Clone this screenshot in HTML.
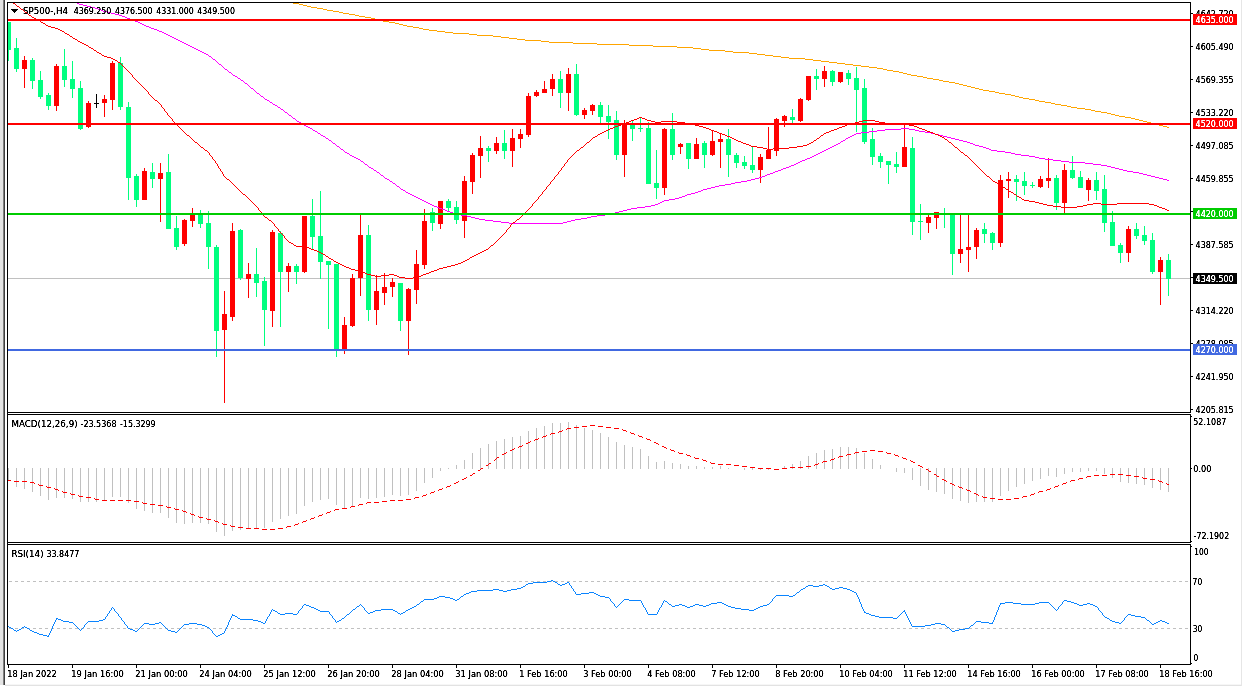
<!DOCTYPE html>
<html lang="en"><head><meta charset="utf-8"><title>SP500-,H4</title>
<style>html,body{margin:0;padding:0;background:#fff;overflow:hidden}svg{display:block}text{font-family:"DejaVu Sans Condensed","DejaVu Sans","Liberation Sans",sans-serif;font-size:9px;white-space:pre}</style></head><body>
<svg width="1243" height="686" viewBox="0 0 1243 686">
<rect width="1243" height="686" fill="#fff"/>
<g shape-rendering="crispEdges">
<rect x="0" y="0" width="3" height="685" fill="#e4e4e4"/>
<rect x="3" y="0" width="1" height="685" fill="#808080"/>
<rect x="4" y="0" width="1" height="685" fill="#404040"/>
<rect x="5" y="685" width="1237" height="1" fill="#e2e2e2"/>
<rect x="5" y="684" width="1237" height="1" fill="#f6f6f6"/>
<rect x="1241" y="0" width="1" height="686" fill="#e6e6e6"/>
</g>
<defs><clipPath id="c1"><rect x="8" y="3" width="1182" height="409"/></clipPath><clipPath id="c2"><rect x="8" y="415" width="1182" height="127"/></clipPath></defs>
<g clip-path="url(#c1)">
<g shape-rendering="crispEdges">
<rect x="8" y="278" width="1182" height="1" fill="#c0c0c0"/>
<g fill="#00FF7F">
<rect x="8" y="22" width="1" height="39"/>
<rect x="6" y="22" width="5" height="28"/>
<rect x="16" y="38" width="1" height="34"/>
<rect x="14" y="48" width="5" height="21"/>
<rect x="32" y="58" width="1" height="31"/>
<rect x="30" y="60" width="5" height="21"/>
<rect x="40" y="71" width="1" height="28"/>
<rect x="38" y="80" width="5" height="17"/>
<rect x="48" y="93" width="1" height="17"/>
<rect x="46" y="95" width="5" height="11"/>
<rect x="64" y="49" width="1" height="38"/>
<rect x="62" y="66" width="5" height="14"/>
<rect x="72" y="61" width="1" height="37"/>
<rect x="70" y="79" width="5" height="10"/>
<rect x="80" y="81" width="1" height="49"/>
<rect x="78" y="88" width="5" height="41"/>
<rect x="120" y="57" width="1" height="53"/>
<rect x="118" y="63" width="5" height="44"/>
<rect x="128" y="102" width="1" height="98"/>
<rect x="126" y="107" width="5" height="71"/>
<rect x="136" y="174" width="1" height="33"/>
<rect x="134" y="176" width="5" height="24"/>
<rect x="152" y="163" width="1" height="25"/>
<rect x="150" y="172" width="5" height="7"/>
<rect x="168" y="154" width="1" height="75"/>
<rect x="166" y="172" width="5" height="57"/>
<rect x="176" y="216" width="1" height="34"/>
<rect x="174" y="228" width="5" height="19"/>
<rect x="200" y="210" width="1" height="18"/>
<rect x="198" y="215" width="5" height="9"/>
<rect x="208" y="211" width="1" height="58"/>
<rect x="206" y="223" width="5" height="24"/>
<rect x="216" y="245" width="1" height="112"/>
<rect x="214" y="247" width="5" height="84"/>
<rect x="240" y="229" width="1" height="51"/>
<rect x="238" y="230" width="5" height="48"/>
<rect x="256" y="248" width="1" height="49"/>
<rect x="254" y="274" width="5" height="9"/>
<rect x="264" y="277" width="1" height="69"/>
<rect x="262" y="281" width="5" height="29"/>
<rect x="280" y="231" width="1" height="96"/>
<rect x="278" y="233" width="5" height="39"/>
<rect x="296" y="264" width="1" height="20"/>
<rect x="294" y="266" width="5" height="6"/>
<rect x="312" y="199" width="1" height="50"/>
<rect x="310" y="216" width="5" height="21"/>
<rect x="320" y="191" width="1" height="88"/>
<rect x="318" y="236" width="5" height="26"/>
<rect x="328" y="261" width="1" height="68"/>
<rect x="326" y="261" width="5" height="4"/>
<rect x="336" y="264" width="1" height="93"/>
<rect x="334" y="264" width="5" height="86"/>
<rect x="368" y="225" width="1" height="96"/>
<rect x="366" y="235" width="5" height="75"/>
<rect x="400" y="283" width="1" height="48"/>
<rect x="398" y="283" width="5" height="38"/>
<rect x="432" y="208" width="1" height="23"/>
<rect x="430" y="212" width="5" height="11"/>
<rect x="448" y="199" width="1" height="13"/>
<rect x="446" y="201" width="5" height="7"/>
<rect x="456" y="201" width="1" height="23"/>
<rect x="454" y="207" width="5" height="13"/>
<rect x="488" y="146" width="1" height="16"/>
<rect x="486" y="148" width="5" height="3"/>
<rect x="504" y="130" width="1" height="29"/>
<rect x="502" y="143" width="5" height="8"/>
<rect x="560" y="71" width="1" height="37"/>
<rect x="558" y="79" width="5" height="14"/>
<rect x="576" y="64" width="1" height="52"/>
<rect x="574" y="74" width="5" height="41"/>
<rect x="600" y="102" width="1" height="21"/>
<rect x="598" y="105" width="5" height="12"/>
<rect x="608" y="105" width="1" height="34"/>
<rect x="606" y="116" width="5" height="6"/>
<rect x="616" y="111" width="1" height="49"/>
<rect x="614" y="120" width="5" height="35"/>
<rect x="632" y="121" width="1" height="20"/>
<rect x="630" y="125" width="5" height="4"/>
<rect x="640" y="117" width="1" height="15"/>
<rect x="638" y="128" width="5" height="1"/>
<rect x="648" y="122" width="1" height="62"/>
<rect x="646" y="128" width="5" height="56"/>
<rect x="656" y="150" width="1" height="49"/>
<rect x="654" y="183" width="5" height="5"/>
<rect x="672" y="113" width="1" height="47"/>
<rect x="670" y="129" width="5" height="26"/>
<rect x="688" y="143" width="1" height="26"/>
<rect x="686" y="143" width="5" height="16"/>
<rect x="704" y="141" width="1" height="27"/>
<rect x="702" y="143" width="5" height="12"/>
<rect x="728" y="129" width="1" height="48"/>
<rect x="726" y="139" width="5" height="16"/>
<rect x="736" y="153" width="1" height="15"/>
<rect x="734" y="155" width="5" height="8"/>
<rect x="744" y="156" width="1" height="13"/>
<rect x="742" y="162" width="5" height="4"/>
<rect x="752" y="147" width="1" height="26"/>
<rect x="750" y="165" width="5" height="5"/>
<rect x="792" y="109" width="1" height="14"/>
<rect x="790" y="117" width="5" height="3"/>
<rect x="816" y="69" width="1" height="21"/>
<rect x="814" y="76" width="5" height="3"/>
<rect x="832" y="70" width="1" height="16"/>
<rect x="830" y="71" width="5" height="11"/>
<rect x="848" y="70" width="1" height="15"/>
<rect x="846" y="73" width="5" height="6"/>
<rect x="856" y="67" width="1" height="65"/>
<rect x="854" y="78" width="5" height="12"/>
<rect x="864" y="79" width="1" height="65"/>
<rect x="862" y="88" width="5" height="54"/>
<rect x="872" y="128" width="1" height="37"/>
<rect x="870" y="139" width="5" height="18"/>
<rect x="880" y="153" width="1" height="15"/>
<rect x="878" y="156" width="5" height="6"/>
<rect x="888" y="161" width="1" height="23"/>
<rect x="886" y="161" width="5" height="4"/>
<rect x="896" y="152" width="1" height="21"/>
<rect x="894" y="164" width="5" height="3"/>
<rect x="912" y="137" width="1" height="98"/>
<rect x="910" y="148" width="5" height="74"/>
<rect x="920" y="204" width="1" height="36"/>
<rect x="918" y="221" width="5" height="1"/>
<rect x="944" y="208" width="1" height="20"/>
<rect x="942" y="213" width="5" height="2"/>
<rect x="952" y="214" width="1" height="61"/>
<rect x="950" y="214" width="5" height="40"/>
<rect x="984" y="223" width="1" height="20"/>
<rect x="982" y="229" width="5" height="5"/>
<rect x="992" y="232" width="1" height="18"/>
<rect x="990" y="233" width="5" height="10"/>
<rect x="1016" y="175" width="1" height="26"/>
<rect x="1014" y="179" width="5" height="3"/>
<rect x="1024" y="172" width="1" height="23"/>
<rect x="1022" y="181" width="5" height="5"/>
<rect x="1032" y="182" width="1" height="6"/>
<rect x="1030" y="185" width="5" height="1"/>
<rect x="1056" y="175" width="1" height="35"/>
<rect x="1054" y="178" width="5" height="25"/>
<rect x="1072" y="156" width="1" height="23"/>
<rect x="1070" y="170" width="5" height="8"/>
<rect x="1080" y="171" width="1" height="17"/>
<rect x="1078" y="177" width="5" height="11"/>
<rect x="1096" y="172" width="1" height="28"/>
<rect x="1094" y="180" width="5" height="11"/>
<rect x="1104" y="175" width="1" height="57"/>
<rect x="1102" y="189" width="5" height="34"/>
<rect x="1112" y="211" width="1" height="35"/>
<rect x="1110" y="222" width="5" height="24"/>
<rect x="1120" y="243" width="1" height="20"/>
<rect x="1118" y="245" width="5" height="8"/>
<rect x="1136" y="223" width="1" height="16"/>
<rect x="1134" y="229" width="5" height="7"/>
<rect x="1144" y="226" width="1" height="19"/>
<rect x="1142" y="235" width="5" height="6"/>
<rect x="1152" y="233" width="1" height="41"/>
<rect x="1150" y="240" width="5" height="32"/>
<rect x="1168" y="254" width="1" height="42"/>
<rect x="1166" y="260" width="5" height="19"/>
</g>
<g fill="#FF0000">
<rect x="24" y="56" width="1" height="32"/>
<rect x="22" y="60" width="5" height="9"/>
<rect x="56" y="64" width="1" height="47"/>
<rect x="54" y="66" width="5" height="40"/>
<rect x="88" y="101" width="1" height="27"/>
<rect x="86" y="103" width="5" height="24"/>
<rect x="104" y="95" width="1" height="22"/>
<rect x="102" y="99" width="5" height="4"/>
<rect x="112" y="61" width="1" height="49"/>
<rect x="110" y="63" width="5" height="37"/>
<rect x="144" y="168" width="1" height="32"/>
<rect x="142" y="171" width="5" height="29"/>
<rect x="160" y="163" width="1" height="59"/>
<rect x="158" y="173" width="5" height="6"/>
<rect x="184" y="219" width="1" height="27"/>
<rect x="182" y="220" width="5" height="24"/>
<rect x="192" y="208" width="1" height="19"/>
<rect x="190" y="215" width="5" height="6"/>
<rect x="224" y="291" width="1" height="112"/>
<rect x="222" y="314" width="5" height="16"/>
<rect x="232" y="223" width="1" height="98"/>
<rect x="230" y="231" width="5" height="86"/>
<rect x="248" y="263" width="1" height="35"/>
<rect x="246" y="274" width="5" height="5"/>
<rect x="272" y="230" width="1" height="97"/>
<rect x="270" y="232" width="5" height="79"/>
<rect x="288" y="263" width="1" height="29"/>
<rect x="286" y="266" width="5" height="6"/>
<rect x="304" y="216" width="1" height="57"/>
<rect x="302" y="216" width="5" height="56"/>
<rect x="344" y="317" width="1" height="37"/>
<rect x="342" y="325" width="5" height="25"/>
<rect x="352" y="274" width="1" height="53"/>
<rect x="350" y="278" width="5" height="48"/>
<rect x="360" y="215" width="1" height="81"/>
<rect x="358" y="235" width="5" height="43"/>
<rect x="376" y="275" width="1" height="50"/>
<rect x="374" y="291" width="5" height="19"/>
<rect x="384" y="273" width="1" height="32"/>
<rect x="382" y="287" width="5" height="6"/>
<rect x="392" y="278" width="1" height="19"/>
<rect x="390" y="282" width="5" height="5"/>
<rect x="408" y="288" width="1" height="67"/>
<rect x="406" y="289" width="5" height="32"/>
<rect x="416" y="250" width="1" height="54"/>
<rect x="414" y="264" width="5" height="26"/>
<rect x="424" y="209" width="1" height="60"/>
<rect x="422" y="221" width="5" height="44"/>
<rect x="440" y="201" width="1" height="28"/>
<rect x="438" y="201" width="5" height="23"/>
<rect x="464" y="176" width="1" height="62"/>
<rect x="462" y="181" width="5" height="40"/>
<rect x="472" y="153" width="1" height="41"/>
<rect x="470" y="155" width="5" height="27"/>
<rect x="480" y="136" width="1" height="42"/>
<rect x="478" y="148" width="5" height="8"/>
<rect x="496" y="137" width="1" height="17"/>
<rect x="494" y="143" width="5" height="8"/>
<rect x="512" y="129" width="1" height="38"/>
<rect x="510" y="138" width="5" height="13"/>
<rect x="520" y="129" width="1" height="19"/>
<rect x="518" y="134" width="5" height="5"/>
<rect x="528" y="93" width="1" height="44"/>
<rect x="526" y="96" width="5" height="39"/>
<rect x="536" y="90" width="1" height="7"/>
<rect x="534" y="92" width="5" height="4"/>
<rect x="544" y="81" width="1" height="12"/>
<rect x="542" y="89" width="5" height="4"/>
<rect x="552" y="74" width="1" height="22"/>
<rect x="550" y="79" width="5" height="10"/>
<rect x="568" y="68" width="1" height="43"/>
<rect x="566" y="74" width="5" height="19"/>
<rect x="584" y="108" width="1" height="11"/>
<rect x="582" y="110" width="5" height="5"/>
<rect x="592" y="104" width="1" height="11"/>
<rect x="590" y="105" width="5" height="6"/>
<rect x="624" y="120" width="1" height="57"/>
<rect x="622" y="123" width="5" height="32"/>
<rect x="664" y="128" width="1" height="67"/>
<rect x="662" y="129" width="5" height="59"/>
<rect x="680" y="143" width="1" height="11"/>
<rect x="678" y="144" width="5" height="3"/>
<rect x="696" y="138" width="1" height="21"/>
<rect x="694" y="144" width="5" height="15"/>
<rect x="712" y="131" width="1" height="25"/>
<rect x="710" y="141" width="5" height="14"/>
<rect x="720" y="133" width="1" height="35"/>
<rect x="718" y="139" width="5" height="3"/>
<rect x="760" y="154" width="1" height="29"/>
<rect x="758" y="157" width="5" height="13"/>
<rect x="768" y="127" width="1" height="32"/>
<rect x="766" y="150" width="5" height="9"/>
<rect x="776" y="118" width="1" height="38"/>
<rect x="774" y="119" width="5" height="32"/>
<rect x="784" y="115" width="1" height="12"/>
<rect x="782" y="116" width="5" height="5"/>
<rect x="800" y="98" width="1" height="24"/>
<rect x="798" y="99" width="5" height="22"/>
<rect x="808" y="76" width="1" height="25"/>
<rect x="806" y="76" width="5" height="24"/>
<rect x="824" y="66" width="1" height="21"/>
<rect x="822" y="71" width="5" height="8"/>
<rect x="840" y="72" width="1" height="11"/>
<rect x="838" y="72" width="5" height="10"/>
<rect x="904" y="125" width="1" height="42"/>
<rect x="902" y="147" width="5" height="20"/>
<rect x="928" y="215" width="1" height="18"/>
<rect x="926" y="217" width="5" height="6"/>
<rect x="936" y="212" width="1" height="17"/>
<rect x="934" y="212" width="5" height="6"/>
<rect x="960" y="215" width="1" height="48"/>
<rect x="958" y="249" width="5" height="5"/>
<rect x="968" y="215" width="1" height="57"/>
<rect x="966" y="247" width="5" height="3"/>
<rect x="976" y="228" width="1" height="31"/>
<rect x="974" y="230" width="5" height="17"/>
<rect x="1000" y="175" width="1" height="72"/>
<rect x="998" y="180" width="5" height="63"/>
<rect x="1008" y="172" width="1" height="26"/>
<rect x="1006" y="179" width="5" height="2"/>
<rect x="1040" y="176" width="1" height="12"/>
<rect x="1038" y="179" width="5" height="8"/>
<rect x="1048" y="158" width="1" height="30"/>
<rect x="1046" y="178" width="5" height="3"/>
<rect x="1064" y="164" width="1" height="49"/>
<rect x="1062" y="170" width="5" height="33"/>
<rect x="1088" y="178" width="1" height="23"/>
<rect x="1086" y="180" width="5" height="10"/>
<rect x="1128" y="226" width="1" height="36"/>
<rect x="1126" y="229" width="5" height="24"/>
<rect x="1160" y="257" width="1" height="48"/>
<rect x="1158" y="260" width="5" height="12"/>
</g>
<g fill="#000000">
<rect x="96" y="94" width="1" height="14"/>
<rect x="94" y="103" width="5" height="1"/>
</g>
</g>
<path d="M293 3.5h6M299 4.5h4M303 5.5h4M307 6.5h4M311 7.5h6M317 8.5h6M323 9.5h4M327 10.5h6M333 11.5h6M339 12.5h4M343 13.5h6M349 14.5h6M355 15.5h4M359 16.5h6M365 17.5h6M371 18.5h4M375 19.5h4M379 20.5h4M383 21.5h6M389 22.5h6M395 23.5h4M399 24.5h4M403 25.5h4M407 26.5h6M413 27.5h6M419 28.5h4M423 29.5h6M429 30.5h8M437 31.5h8M445 32.5h8M453 33.5h16M469 34.5h8M477 35.5h16M493 36.5h8M501 37.5h8M509 38.5h8M517 39.5h8M525 40.5h16M541 41.5h8M549 42.5h24M573 43.5h24M597 44.5h32M629 45.5h24M653 46.5h24M677 47.5h16M693 48.5h8M701 49.5h8M709 50.5h16M725 51.5h8M733 52.5h16M749 53.5h8M757 54.5h8M765 55.5h8M773 56.5h8M781 57.5h8M789 58.5h16M805 59.5h8M813 60.5h8M821 61.5h8M829 62.5h8M837 63.5h8M845 64.5h8M853 65.5h8M861 66.5h8M869 67.5h8M877 68.5h6M883 69.5h4M887 70.5h6M893 71.5h6M899 72.5h4M903 73.5h4M907 74.5h4M911 75.5h6M917 76.5h6M923 77.5h4M927 78.5h6M933 79.5h6M939 80.5h4M943 81.5h6M949 82.5h6M955 83.5h4M959 84.5h4M963 85.5h4M967 86.5h4M971 87.5h4M975 88.5h4M979 89.5h4M983 90.5h6M989 91.5h6M995 92.5h4M999 93.5h6M1005 94.5h6M1011 95.5h4M1015 96.5h4M1019 97.5h4M1023 98.5h6M1029 99.5h6M1035 100.5h4M1039 101.5h6M1045 102.5h6M1051 103.5h4M1055 104.5h6M1061 105.5h6M1067 106.5h4M1071 107.5h6M1077 108.5h8M1085 109.5h6M1091 110.5h4M1095 111.5h6M1101 112.5h6M1107 113.5h4M1111 114.5h4M1115 115.5h4M1119 116.5h6M1125 117.5h6M1131 118.5h4M1135 119.5h4M1139 120.5h4M1143 121.5h4M1147 122.5h4M1151 123.5h4M1155 124.5h4M1159 125.5h4M1163 126.5h4M1167 127.5h2" fill="none" stroke="#FFA500" stroke-width="1" shape-rendering="crispEdges"/>
<path d="M77 3.5h2M79 4.5h4M83 5.5h4M87 6.5h4M91 7.5h4M95 8.5h3M98 9.5h3M101 10.5h2M103 11.5h4M107 12.5h4M111 13.5h4M115 14.5h4M119 15.5h3M122 16.5h3M125 17.5h2M127 18.5h3M130 19.5h3M133 20.5h2M135 21.5h3M138 22.5h2M140 23.5h2M142 24.5h2M144 25.5h2M146 26.5h3M149 27.5h2M151 28.5h3M154 29.5h3M157 30.5h2M159 31.5h3M162 32.5h2M164 33.5h2M166 34.5h2M168 35.5h2M170 36.5h2M172 37.5h2M174 38.5h2M176 39.5h2M178 40.5h2M180 41.5h2M182 42.5h2M184 43.5h2M186 44.5h2M188 45.5h2M190 46.5h2M192 47.5h2M194 48.5h2M196 49.5h2M198 50.5h2M200 51.5h2M202 52.5h2M204 53.5h2M206 54.5h2M209 56.5h2M213 59.5h2M219 64.5h2M225 69.5h2M229 72.5h2M233 75.5h2M235 76.5h2M238 78.5h2M241 80.5h2M245 83.5h2M251 88.5h2M257 93.5h2M261 96.5h2M265 99.5h2M267 100.5h2M270 102.5h2M273 104.5h2M275 105.5h2M278 107.5h2M281 109.5h2M285 112.5h2M289 115.5h2M293 118.5h2M297 121.5h2M299 122.5h2M302 124.5h2M304 125.5h2M306 126.5h2M308 127.5h2M310 128.5h2M901 128.5h8M885 129.5h16M909 129.5h6M313 130.5h2M877 130.5h8M915 130.5h4M315 131.5h2M869 131.5h8M919 131.5h6M861 132.5h8M925 132.5h6M318 133.5h2M856 133.5h5M931 133.5h4M854 134.5h2M935 134.5h4M321 135.5h2M852 135.5h2M939 135.5h4M323 136.5h2M850 136.5h2M943 136.5h4M848 137.5h2M947 137.5h4M326 138.5h2M846 138.5h2M951 138.5h4M955 139.5h4M329 140.5h2M843 140.5h2M959 140.5h4M841 141.5h2M963 141.5h4M967 142.5h3M333 143.5h2M838 143.5h2M970 143.5h3M836 144.5h2M973 144.5h2M834 145.5h2M975 145.5h4M337 146.5h2M832 146.5h2M979 146.5h4M830 147.5h2M983 147.5h3M828 148.5h2M986 148.5h3M341 149.5h2M826 149.5h2M989 149.5h2M824 150.5h2M991 150.5h6M822 151.5h2M997 151.5h8M345 152.5h2M820 152.5h2M1005 152.5h6M347 153.5h2M818 153.5h2M1011 153.5h4M816 154.5h2M1015 154.5h6M350 155.5h2M814 155.5h2M1021 155.5h8M352 156.5h2M812 156.5h2M1029 156.5h6M354 157.5h2M810 157.5h2M1035 157.5h4M356 158.5h2M807 158.5h3M1039 158.5h6M358 159.5h2M805 159.5h2M1045 159.5h8M802 160.5h3M1053 160.5h8M361 161.5h2M800 161.5h2M1061 161.5h8M798 162.5h2M1069 162.5h16M796 163.5h2M1085 163.5h8M365 164.5h2M794 164.5h2M1093 164.5h8M791 165.5h3M1101 165.5h6M789 166.5h2M1107 166.5h4M369 167.5h2M786 167.5h3M1111 167.5h4M371 168.5h2M783 168.5h3M1115 168.5h4M781 169.5h2M1119 169.5h4M374 170.5h2M778 170.5h3M1123 170.5h4M775 171.5h3M1127 171.5h6M377 172.5h2M773 172.5h2M1133 172.5h6M770 173.5h3M1139 173.5h4M767 174.5h3M1143 174.5h4M381 175.5h2M765 175.5h2M1147 175.5h4M762 176.5h3M1151 176.5h4M759 177.5h3M1155 177.5h4M385 178.5h2M755 178.5h4M1159 178.5h4M387 179.5h2M751 179.5h4M1163 179.5h4M747 180.5h4M1167 180.5h2M390 181.5h2M741 181.5h6M735 182.5h6M393 183.5h2M731 183.5h4M725 184.5h6M719 185.5h6M397 186.5h2M715 186.5h4M711 187.5h4M707 188.5h4M401 189.5h2M703 189.5h4M403 190.5h2M701 190.5h2M698 191.5h3M406 192.5h2M695 192.5h3M408 193.5h2M691 193.5h4M410 194.5h2M687 194.5h4M412 195.5h2M685 195.5h2M414 196.5h2M682 196.5h3M416 197.5h2M679 197.5h3M418 198.5h2M675 198.5h4M420 199.5h2M669 199.5h6M422 200.5h2M664 200.5h5M424 201.5h2M662 201.5h2M426 202.5h2M660 202.5h2M428 203.5h2M658 203.5h2M430 204.5h2M655 204.5h3M432 205.5h2M651 205.5h4M434 206.5h3M645 206.5h6M437 207.5h2M637 207.5h8M439 208.5h3M631 208.5h6M442 209.5h3M627 209.5h4M445 210.5h2M623 210.5h4M447 211.5h3M619 211.5h4M450 212.5h3M615 212.5h4M453 213.5h2M611 213.5h4M455 214.5h6M605 214.5h6M461 215.5h6M597 215.5h8M467 216.5h4M591 216.5h6M471 217.5h4M587 217.5h4M475 218.5h4M581 218.5h6M479 219.5h6M575 219.5h6M485 220.5h8M571 220.5h4M493 221.5h8M567 221.5h4M501 222.5h8M563 222.5h4M509 223.5h54M208.5 55v1M211.5 57v1M212.5 58v1M215.5 60v1M216.5 61v1M217.5 62v1M218.5 63v1M221.5 65v1M222.5 66v1M223.5 67v1M224.5 68v1M227.5 70v1M228.5 71v1M231.5 73v1M232.5 74v1M237.5 77v1M240.5 79v1M243.5 81v1M244.5 82v1M247.5 84v1M248.5 85v1M249.5 86v1M250.5 87v1M253.5 89v1M254.5 90v1M255.5 91v1M256.5 92v1M259.5 94v1M260.5 95v1M263.5 97v1M264.5 98v1M269.5 101v1M272.5 103v1M277.5 106v1M280.5 108v1M283.5 110v1M284.5 111v1M287.5 113v1M288.5 114v1M291.5 116v1M292.5 117v1M295.5 119v1M296.5 120v1M301.5 123v1M312.5 129v1M317.5 132v1M320.5 134v1M325.5 137v1M328.5 139v1M331.5 141v1M332.5 142v1M335.5 144v1M336.5 145v1M339.5 147v1M340.5 148v1M343.5 150v1M344.5 151v1M349.5 154v1M360.5 160v1M363.5 162v1M364.5 163v1M367.5 165v1M368.5 166v1M373.5 169v1M376.5 171v1M379.5 173v1M380.5 174v1M383.5 176v1M384.5 177v1M389.5 180v1M392.5 182v1M395.5 184v1M396.5 185v1M399.5 187v1M400.5 188v1M405.5 191v1M840.5 142v1M845.5 139v1" fill="none" stroke="#FF00FF" stroke-width="1" shape-rendering="crispEdges"/>
<path d="M13 3.5h2M17 6.5h2M21 9.5h2M25 12.5h2M29 15.5h2M32 17.5h2M34 18.5h2M36 19.5h2M38 20.5h2M41 22.5h2M43 23.5h2M46 25.5h2M48 26.5h3M51 27.5h4M55 28.5h3M58 29.5h2M60 30.5h2M62 31.5h2M65 33.5h2M67 34.5h2M70 36.5h2M73 38.5h2M75 39.5h2M78 41.5h2M80 42.5h2M82 43.5h2M84 44.5h2M86 45.5h2M89 47.5h2M91 48.5h2M94 50.5h2M97 52.5h2M99 53.5h2M102 55.5h2M104 56.5h3M107 57.5h4M111 58.5h2M113 59.5h2M115 60.5h2M118 62.5h2M155 100.5h2M639 117.5h3M637 118.5h2M642 118.5h3M634 119.5h3M645 119.5h2M631 120.5h3M647 120.5h4M863 120.5h12M629 121.5h2M651 121.5h4M661 121.5h16M859 121.5h4M875 121.5h4M626 122.5h3M655 122.5h6M677 122.5h8M855 122.5h4M879 122.5h6M623 123.5h3M685 123.5h6M851 123.5h4M885 123.5h16M621 124.5h2M691 124.5h4M847 124.5h4M901 124.5h8M618 125.5h3M695 125.5h4M845 125.5h2M909 125.5h5M615 126.5h3M699 126.5h4M842 126.5h3M914 126.5h3M613 127.5h2M703 127.5h3M839 127.5h3M917 127.5h2M610 128.5h3M706 128.5h3M837 128.5h2M919 128.5h3M608 129.5h2M709 129.5h2M834 129.5h3M922 129.5h3M606 130.5h2M711 130.5h3M831 130.5h3M925 130.5h2M604 131.5h2M714 131.5h3M829 131.5h2M927 131.5h3M602 132.5h2M717 132.5h2M826 132.5h3M930 132.5h3M600 133.5h2M719 133.5h3M824 133.5h2M933 133.5h2M598 134.5h2M722 134.5h3M935 134.5h3M187 135.5h2M725 135.5h2M821 135.5h2M938 135.5h2M595 136.5h2M727 136.5h3M940 136.5h2M593 137.5h2M730 137.5h2M942 137.5h2M732 138.5h2M817 138.5h2M734 139.5h2M945 139.5h2M736 140.5h2M814 140.5h2M738 141.5h3M195 142.5h2M587 142.5h2M741 142.5h2M811 142.5h2M949 142.5h2M743 143.5h3M809 143.5h2M746 144.5h3M807 144.5h2M749 145.5h2M803 145.5h4M751 146.5h6M797 146.5h6M201 147.5h2M581 147.5h2M757 147.5h6M789 147.5h8M955 147.5h2M763 148.5h4M773 148.5h16M767 149.5h6M205 150.5h2M577 150.5h2M961 152.5h2M965 155.5h2M987 176.5h2M227 179.5h2M993 181.5h2M995 182.5h2M998 184.5h2M1001 186.5h2M1003 187.5h2M1006 189.5h2M1009 191.5h2M1011 192.5h2M243 194.5h2M1014 194.5h2M1017 196.5h2M1019 197.5h2M1022 199.5h2M1024 200.5h5M1029 201.5h6M1035 202.5h4M1039 203.5h4M1093 203.5h8M1117 203.5h32M1043 204.5h4M1087 204.5h6M1101 204.5h16M1149 204.5h5M1047 205.5h6M1083 205.5h4M1154 205.5h3M1053 206.5h8M1077 206.5h6M1157 206.5h2M1061 207.5h16M1159 207.5h3M1162 208.5h3M1165 209.5h2M1167 210.5h2M265 217.5h2M517 219.5h2M269 220.5h2M513 222.5h2M289 242.5h2M291 243.5h2M294 245.5h2M491 245.5h2M296 246.5h10M306 247.5h3M309 248.5h2M311 249.5h3M486 249.5h2M314 250.5h3M484 250.5h2M317 251.5h2M482 251.5h2M319 252.5h2M480 252.5h2M321 253.5h2M478 253.5h2M323 254.5h2M476 254.5h2M474 255.5h2M326 256.5h2M472 256.5h2M470 257.5h2M329 258.5h2M331 259.5h2M467 259.5h2M465 260.5h2M334 261.5h2M463 261.5h2M336 262.5h2M461 262.5h2M338 263.5h2M458 263.5h3M340 264.5h2M455 264.5h3M342 265.5h2M451 265.5h4M344 266.5h2M447 266.5h4M346 267.5h3M443 267.5h4M349 268.5h2M439 268.5h4M351 269.5h4M437 269.5h2M355 270.5h4M434 270.5h3M359 271.5h3M431 271.5h3M362 272.5h3M429 272.5h2M365 273.5h2M426 273.5h3M367 274.5h4M389 274.5h5M423 274.5h3M371 275.5h4M381 275.5h8M394 275.5h3M421 275.5h2M375 276.5h6M397 276.5h2M418 276.5h3M399 277.5h6M413 277.5h5M405 278.5h8M15.5 4v1M16.5 5v1M19.5 7v1M20.5 8v1M23.5 10v1M24.5 11v1M27.5 13v1M28.5 14v1M31.5 16v1M40.5 21v1M45.5 24v1M64.5 32v1M69.5 35v1M72.5 37v1M77.5 40v1M88.5 46v1M93.5 49v1M96.5 51v1M101.5 54v1M117.5 61v1M120.5 63v1M121.5 64v1M122.5 65v1M123.5 66v1M124.5 67v1M125.5 68v1M126.5 69v1M127.5 70v1M128.5 71v1M129.5 72v1M130.5 73v1M131.5 74v1M132.5 75v2M133.5 77v1M134.5 78v1M135.5 79v1M136.5 80v1M137.5 81v1M138.5 82v1M139.5 83v1M140.5 84v1M141.5 85v1M142.5 86v1M143.5 87v1M144.5 88v1M145.5 89v1M146.5 90v1M147.5 91v1M148.5 92v2M149.5 94v1M150.5 95v1M151.5 96v1M152.5 97v1M153.5 98v1M154.5 99v1M157.5 101v1M158.5 102v1M159.5 103v1M160.5 104v1M161.5 105v2M162.5 107v1M163.5 108v1M164.5 109v2M165.5 111v1M166.5 112v1M167.5 113v2M168.5 115v1M169.5 116v1M170.5 117v1M171.5 118v1M172.5 119v2M173.5 121v1M174.5 122v1M175.5 123v1M176.5 124v1M177.5 125v1M178.5 126v1M179.5 127v1M180.5 128v1M181.5 129v1M182.5 130v1M183.5 131v1M184.5 132v1M185.5 133v1M186.5 134v1M189.5 136v1M190.5 137v1M191.5 138v1M192.5 139v1M193.5 140v1M194.5 141v1M197.5 143v1M198.5 144v1M199.5 145v1M200.5 146v1M203.5 148v1M204.5 149v1M207.5 151v1M208.5 152v1M209.5 153v2M210.5 155v1M211.5 156v1M212.5 157v2M213.5 159v1M214.5 160v1M215.5 161v2M216.5 163v1M217.5 164v2M218.5 166v2M219.5 168v1M220.5 169v2M221.5 171v1M222.5 172v2M223.5 174v2M224.5 176v1M225.5 177v1M226.5 178v1M229.5 180v1M230.5 181v1M231.5 182v1M232.5 183v1M233.5 184v1M234.5 185v1M235.5 186v1M236.5 187v1M237.5 188v1M238.5 189v1M239.5 190v1M240.5 191v1M241.5 192v1M242.5 193v1M245.5 195v1M246.5 196v1M247.5 197v1M248.5 198v1M249.5 199v1M250.5 200v1M251.5 201v1M252.5 202v1M253.5 203v1M254.5 204v1M255.5 205v1M256.5 206v1M257.5 207v1M258.5 208v2M259.5 210v1M260.5 211v1M261.5 212v1M262.5 213v2M263.5 215v1M264.5 216v1M267.5 218v1M268.5 219v1M271.5 221v1M272.5 222v1M273.5 223v1M274.5 224v2M275.5 226v1M276.5 227v1M277.5 228v1M278.5 229v2M279.5 231v1M280.5 232v1M281.5 233v1M282.5 234v1M283.5 235v1M284.5 236v2M285.5 238v1M286.5 239v1M287.5 240v1M288.5 241v1M293.5 244v1M325.5 255v1M328.5 257v1M333.5 260v1M469.5 258v1M488.5 248v1M489.5 247v1M490.5 246v1M493.5 244v1M494.5 243v1M495.5 242v1M496.5 241v1M497.5 240v1M498.5 239v1M499.5 238v1M500.5 237v1M501.5 236v1M502.5 235v1M503.5 234v1M504.5 233v1M505.5 232v1M506.5 230v2M507.5 229v1M508.5 228v1M509.5 227v1M510.5 225v2M511.5 224v1M512.5 223v1M515.5 221v1M516.5 220v1M519.5 218v1M520.5 217v1M521.5 216v1M522.5 215v1M523.5 214v1M524.5 213v1M525.5 212v1M526.5 211v1M527.5 210v1M528.5 209v1M529.5 208v1M530.5 207v1M531.5 206v1M532.5 204v2M533.5 203v1M534.5 202v1M535.5 201v1M536.5 200v1M537.5 199v1M538.5 197v2M539.5 196v1M540.5 195v1M541.5 194v1M542.5 192v2M543.5 191v1M544.5 190v1M545.5 189v1M546.5 187v2M547.5 186v1M548.5 185v1M549.5 184v1M550.5 182v2M551.5 181v1M552.5 180v1M553.5 179v1M554.5 177v2M555.5 176v1M556.5 175v1M557.5 174v1M558.5 172v2M559.5 171v1M560.5 170v1M561.5 168v2M562.5 167v1M563.5 166v1M564.5 164v2M565.5 163v1M566.5 162v1M567.5 160v2M568.5 159v1M569.5 158v1M570.5 157v1M571.5 156v1M572.5 155v1M573.5 154v1M574.5 153v1M575.5 152v1M576.5 151v1M579.5 149v1M580.5 148v1M583.5 146v1M584.5 145v1M585.5 144v1M586.5 143v1M589.5 141v1M590.5 140v1M591.5 139v1M592.5 138v1M597.5 135v1M813.5 141v1M816.5 139v1M819.5 137v1M820.5 136v1M823.5 134v1M944.5 138v1M947.5 140v1M948.5 141v1M951.5 143v1M952.5 144v1M953.5 145v1M954.5 146v1M957.5 148v1M958.5 149v1M959.5 150v1M960.5 151v1M963.5 153v1M964.5 154v1M967.5 156v1M968.5 157v1M969.5 158v1M970.5 159v1M971.5 160v1M972.5 161v1M973.5 162v1M974.5 163v1M975.5 164v1M976.5 165v1M977.5 166v1M978.5 167v1M979.5 168v1M980.5 169v1M981.5 170v1M982.5 171v1M983.5 172v1M984.5 173v1M985.5 174v1M986.5 175v1M989.5 177v1M990.5 178v1M991.5 179v1M992.5 180v1M997.5 183v1M1000.5 185v1M1005.5 188v1M1008.5 190v1M1013.5 193v1M1016.5 195v1M1021.5 198v1" fill="none" stroke="#FF0000" stroke-width="1" shape-rendering="crispEdges"/>
<g shape-rendering="crispEdges">
<rect x="8" y="19" width="1182" height="2" fill="#FF0000"/>
<rect x="8" y="123" width="1182" height="2" fill="#FF0000"/>
<rect x="8" y="213" width="1182" height="2" fill="#00CC00"/>
<rect x="8" y="349" width="1182" height="2" fill="#4169E1"/>
</g>
</g>
<g shape-rendering="crispEdges" fill="#c0c0c0">
<rect x="8" y="468" width="1" height="12"/>
<rect x="16" y="468" width="1" height="19"/>
<rect x="24" y="468" width="1" height="21"/>
<rect x="32" y="468" width="1" height="24"/>
<rect x="40" y="468" width="1" height="28"/>
<rect x="48" y="468" width="1" height="32"/>
<rect x="56" y="468" width="1" height="30"/>
<rect x="64" y="468" width="1" height="30"/>
<rect x="72" y="468" width="1" height="31"/>
<rect x="80" y="468" width="1" height="34"/>
<rect x="88" y="468" width="1" height="34"/>
<rect x="96" y="468" width="1" height="34"/>
<rect x="104" y="468" width="1" height="32"/>
<rect x="112" y="468" width="1" height="29"/>
<rect x="120" y="468" width="1" height="29"/>
<rect x="128" y="468" width="1" height="35"/>
<rect x="136" y="468" width="1" height="41"/>
<rect x="144" y="468" width="1" height="43"/>
<rect x="152" y="468" width="1" height="45"/>
<rect x="160" y="468" width="1" height="45"/>
<rect x="168" y="468" width="1" height="50"/>
<rect x="176" y="468" width="1" height="55"/>
<rect x="184" y="468" width="1" height="56"/>
<rect x="192" y="468" width="1" height="55"/>
<rect x="200" y="468" width="1" height="55"/>
<rect x="208" y="468" width="1" height="56"/>
<rect x="216" y="468" width="1" height="64"/>
<rect x="224" y="468" width="1" height="68"/>
<rect x="232" y="468" width="1" height="63"/>
<rect x="240" y="468" width="1" height="62"/>
<rect x="248" y="468" width="1" height="60"/>
<rect x="256" y="468" width="1" height="60"/>
<rect x="264" y="468" width="1" height="60"/>
<rect x="272" y="468" width="1" height="54"/>
<rect x="280" y="468" width="1" height="51"/>
<rect x="288" y="468" width="1" height="48"/>
<rect x="296" y="468" width="1" height="46"/>
<rect x="304" y="468" width="1" height="38"/>
<rect x="312" y="468" width="1" height="34"/>
<rect x="320" y="468" width="1" height="32"/>
<rect x="328" y="468" width="1" height="31"/>
<rect x="336" y="468" width="1" height="37"/>
<rect x="344" y="468" width="1" height="40"/>
<rect x="352" y="468" width="1" height="38"/>
<rect x="360" y="468" width="1" height="30"/>
<rect x="368" y="468" width="1" height="31"/>
<rect x="376" y="468" width="1" height="30"/>
<rect x="384" y="468" width="1" height="29"/>
<rect x="392" y="468" width="1" height="27"/>
<rect x="400" y="468" width="1" height="28"/>
<rect x="408" y="468" width="1" height="27"/>
<rect x="416" y="468" width="1" height="23"/>
<rect x="424" y="468" width="1" height="15"/>
<rect x="432" y="468" width="1" height="10"/>
<rect x="440" y="468" width="1" height="3"/>
<rect x="448" y="468" width="1" height="1"/>
<rect x="456" y="465" width="1" height="4"/>
<rect x="464" y="460" width="1" height="9"/>
<rect x="472" y="453" width="1" height="16"/>
<rect x="480" y="448" width="1" height="21"/>
<rect x="488" y="444" width="1" height="25"/>
<rect x="496" y="441" width="1" height="28"/>
<rect x="504" y="439" width="1" height="30"/>
<rect x="512" y="437" width="1" height="32"/>
<rect x="520" y="436" width="1" height="33"/>
<rect x="528" y="431" width="1" height="38"/>
<rect x="536" y="428" width="1" height="41"/>
<rect x="544" y="426" width="1" height="43"/>
<rect x="552" y="423" width="1" height="46"/>
<rect x="560" y="423" width="1" height="46"/>
<rect x="568" y="422" width="1" height="47"/>
<rect x="576" y="425" width="1" height="44"/>
<rect x="584" y="428" width="1" height="41"/>
<rect x="592" y="430" width="1" height="39"/>
<rect x="600" y="433" width="1" height="36"/>
<rect x="608" y="437" width="1" height="32"/>
<rect x="616" y="442" width="1" height="27"/>
<rect x="624" y="445" width="1" height="24"/>
<rect x="632" y="447" width="1" height="22"/>
<rect x="640" y="449" width="1" height="20"/>
<rect x="648" y="456" width="1" height="13"/>
<rect x="656" y="462" width="1" height="7"/>
<rect x="664" y="461" width="1" height="8"/>
<rect x="672" y="463" width="1" height="6"/>
<rect x="680" y="464" width="1" height="5"/>
<rect x="688" y="466" width="1" height="3"/>
<rect x="696" y="466" width="1" height="3"/>
<rect x="704" y="467" width="1" height="2"/>
<rect x="712" y="467" width="1" height="2"/>
<rect x="720" y="466" width="1" height="3"/>
<rect x="728" y="468" width="1" height="1"/>
<rect x="744" y="468" width="1" height="2"/>
<rect x="752" y="468" width="1" height="2"/>
<rect x="760" y="468" width="1" height="2"/>
<rect x="768" y="468" width="1" height="2"/>
<rect x="784" y="466" width="1" height="3"/>
<rect x="792" y="464" width="1" height="5"/>
<rect x="800" y="461" width="1" height="8"/>
<rect x="808" y="456" width="1" height="13"/>
<rect x="816" y="453" width="1" height="16"/>
<rect x="824" y="450" width="1" height="19"/>
<rect x="832" y="449" width="1" height="20"/>
<rect x="840" y="447" width="1" height="22"/>
<rect x="848" y="447" width="1" height="22"/>
<rect x="856" y="448" width="1" height="21"/>
<rect x="864" y="453" width="1" height="16"/>
<rect x="872" y="459" width="1" height="10"/>
<rect x="880" y="465" width="1" height="4"/>
<rect x="896" y="468" width="1" height="4"/>
<rect x="904" y="468" width="1" height="5"/>
<rect x="912" y="468" width="1" height="12"/>
<rect x="920" y="468" width="1" height="18"/>
<rect x="928" y="468" width="1" height="22"/>
<rect x="936" y="468" width="1" height="24"/>
<rect x="944" y="468" width="1" height="26"/>
<rect x="952" y="468" width="1" height="31"/>
<rect x="960" y="468" width="1" height="33"/>
<rect x="968" y="468" width="1" height="35"/>
<rect x="976" y="468" width="1" height="34"/>
<rect x="984" y="468" width="1" height="34"/>
<rect x="992" y="468" width="1" height="34"/>
<rect x="1000" y="468" width="1" height="28"/>
<rect x="1008" y="468" width="1" height="23"/>
<rect x="1016" y="468" width="1" height="19"/>
<rect x="1024" y="468" width="1" height="16"/>
<rect x="1032" y="468" width="1" height="13"/>
<rect x="1040" y="468" width="1" height="11"/>
<rect x="1048" y="468" width="1" height="8"/>
<rect x="1056" y="468" width="1" height="9"/>
<rect x="1064" y="468" width="1" height="6"/>
<rect x="1072" y="468" width="1" height="4"/>
<rect x="1080" y="468" width="1" height="4"/>
<rect x="1088" y="468" width="1" height="3"/>
<rect x="1096" y="468" width="1" height="3"/>
<rect x="1104" y="468" width="1" height="6"/>
<rect x="1112" y="468" width="1" height="10"/>
<rect x="1120" y="468" width="1" height="14"/>
<rect x="1128" y="468" width="1" height="15"/>
<rect x="1136" y="468" width="1" height="16"/>
<rect x="1144" y="468" width="1" height="17"/>
<rect x="1152" y="468" width="1" height="20"/>
<rect x="1160" y="468" width="1" height="22"/>
<rect x="1168" y="468" width="1" height="24"/>
</g>
<path d="M590 425.5h5M582 426.5h5M598 426.5h5M574 427.5h5M606 427.5h5M567 428.5h4M614 428.5h5M623 430.5h3M559 431.5h3M551 433.5h4M631 433.5h3M543 436.5h3M639 436.5h3M535 439.5h3M647 439.5h3M528 442.5h2M654 442.5h2M526 443.5h2M656 443.5h2M519 446.5h3M662 446.5h2M664 447.5h2M512 449.5h2M510 450.5h2M671 450.5h3M870 450.5h5M862 451.5h5M878 451.5h5M855 452.5h4M504 453.5h2M679 453.5h4M887 453.5h4M502 454.5h2M847 454.5h4M687 455.5h3M895 455.5h3M839 456.5h4M497 457.5h2M695 458.5h4M903 458.5h3M831 459.5h3M703 460.5h3M823 461.5h4M911 461.5h2M913 462.5h2M489 463.5h2M711 463.5h4M718 464.5h5M726 464.5h5M815 464.5h3M486 465.5h2M734 465.5h5M918 465.5h2M742 466.5h5M806 466.5h5M920 466.5h2M750 467.5h5M790 467.5h5M798 467.5h5M481 468.5h2M758 468.5h5M766 468.5h5M782 468.5h5M774 469.5h5M926 469.5h2M478 470.5h2M929 471.5h2M473 473.5h2M934 474.5h2M1110 474.5h5M1118 474.5h5M470 475.5h2M1094 475.5h5M1102 475.5h5M1126 475.5h5M937 476.5h2M1087 476.5h4M1134 476.5h5M464 478.5h2M1079 478.5h4M1143 478.5h4M462 479.5h2M942 479.5h2M1150 479.5h5M8 480.5h3M944 480.5h2M1071 480.5h4M14 481.5h5M22 481.5h5M1159 481.5h3M30 482.5h4M456 482.5h2M454 483.5h2M950 483.5h2M1063 483.5h3M952 484.5h2M1167 484.5h2M39 485.5h4M447 486.5h3M1055 486.5h3M47 487.5h4M959 487.5h3M55 489.5h3M439 489.5h3M1047 489.5h3M967 490.5h3M1039 491.5h4M63 492.5h4M431 492.5h3M974 493.5h2M71 494.5h4M976 494.5h2M1031 494.5h3M423 495.5h3M79 496.5h4M1023 496.5h4M86 497.5h5M415 497.5h4M983 497.5h4M990 498.5h5M1014 498.5h5M95 499.5h4M406 499.5h5M998 499.5h5M1006 499.5h5M102 500.5h5M110 500.5h5M118 500.5h5M126 500.5h5M390 500.5h5M398 500.5h5M134 501.5h5M382 501.5h5M367 502.5h4M374 502.5h5M143 503.5h4M150 504.5h5M359 504.5h4M158 505.5h5M351 506.5h4M167 507.5h4M342 508.5h5M175 509.5h4M335 509.5h4M183 511.5h3M327 512.5h3M191 514.5h3M319 515.5h3M199 517.5h4M311 518.5h3M207 519.5h4M215 521.5h3M303 521.5h3M223 524.5h4M295 524.5h3M231 526.5h4M287 526.5h4M238 527.5h5M246 528.5h5M254 528.5h5M278 528.5h5M262 529.5h5M270 529.5h5M34.5 483v1M38.5 484v1M46.5 486v1M54.5 488v1M58.5 490v1M62.5 491v1M70.5 493v1M78.5 495v1M94.5 498v1M142.5 502v1M166.5 506v1M174.5 508v1M182.5 510v1M186.5 512v1M190.5 513v1M194.5 515v1M198.5 516v1M206.5 518v1M214.5 520v1M218.5 522v1M222.5 523v1M230.5 525v1M286.5 527v1M294.5 525v1M298.5 523v1M302.5 522v1M306.5 520v1M310.5 519v1M314.5 517v1M318.5 516v1M322.5 514v1M326.5 513v1M330.5 511v1M334.5 510v1M350.5 507v1M358.5 505v1M366.5 503v1M414.5 498v1M422.5 496v1M426.5 494v1M430.5 493v1M434.5 491v1M438.5 490v1M442.5 488v1M446.5 487v1M450.5 485v1M458.5 481v1M466.5 477v1M472.5 474v1M480.5 469v1M488.5 464v1M494.5 460v1M495.5 459v1M496.5 458v1M506.5 452v1M514.5 448v1M518.5 447v1M522.5 445v1M530.5 441v1M534.5 440v1M538.5 438v1M542.5 437v1M546.5 435v1M550.5 434v1M558.5 432v1M562.5 430v1M566.5 429v1M622.5 429v1M626.5 431v1M630.5 432v1M634.5 434v1M638.5 435v1M642.5 437v1M646.5 438v1M650.5 440v1M658.5 444v1M666.5 448v1M670.5 449v1M674.5 451v1M678.5 452v1M686.5 454v1M690.5 456v1M694.5 457v1M702.5 459v1M706.5 461v1M710.5 462v1M814.5 465v1M818.5 463v1M822.5 462v1M830.5 460v1M834.5 458v1M838.5 457v1M846.5 455v1M854.5 453v1M886.5 452v1M894.5 454v1M898.5 456v1M902.5 457v1M906.5 459v1M910.5 460v1M922.5 467v1M928.5 470v1M936.5 475v1M946.5 481v1M954.5 485v1M958.5 486v1M962.5 488v1M966.5 489v1M970.5 491v1M978.5 495v1M982.5 496v1M1022.5 497v1M1030.5 495v1M1034.5 493v1M1038.5 492v1M1046.5 490v1M1050.5 488v1M1054.5 487v1M1058.5 485v1M1062.5 484v1M1066.5 482v1M1070.5 481v1M1078.5 479v1M1086.5 477v1M1142.5 477v1M1158.5 480v1M1162.5 482v1M1166.5 483v1" fill="none" stroke="#FF0000" stroke-width="1" shape-rendering="crispEdges"/>
<path d="M9 581.5H1189M9 628.5H1189" stroke="#c0c0c0" stroke-dasharray="3 3" shape-rendering="crispEdges" fill="none"/>
<path d="M551 580.5h2M547 581.5h4M553 581.5h2M533 582.5h14M555 582.5h2M567 582.5h2M528 583.5h5M565 583.5h2M526 584.5h2M558 584.5h2M562 584.5h3M823 584.5h2M560 585.5h2M808 585.5h5M819 585.5h4M825 585.5h2M523 586.5h2M806 586.5h2M813 586.5h6M827 586.5h2M521 587.5h2M839 587.5h4M517 588.5h4M803 588.5h2M830 588.5h2M835 588.5h4M843 588.5h4M493 589.5h6M511 589.5h6M801 589.5h2M832 589.5h3M847 589.5h3M477 590.5h16M499 590.5h4M507 590.5h4M850 590.5h2M471 591.5h6M503 591.5h4M852 591.5h2M469 592.5h2M589 592.5h5M797 592.5h2M854 592.5h2M466 593.5h3M581 593.5h8M594 593.5h2M464 594.5h2M576 594.5h5M596 594.5h2M598 595.5h2M776 595.5h13M793 595.5h2M439 596.5h6M461 596.5h2M600 596.5h5M789 596.5h4M437 597.5h2M445 597.5h5M605 597.5h4M434 598.5h3M450 598.5h3M424 599.5h10M453 599.5h2M457 599.5h2M624 599.5h5M455 600.5h2M629 600.5h12M1064 600.5h3M421 601.5h2M665 601.5h2M1067 601.5h4M717 602.5h5M1005 602.5h8M1039 602.5h10M1071 602.5h3M711 603.5h6M722 603.5h2M1000 603.5h5M1013 603.5h8M1035 603.5h4M1074 603.5h3M1087 603.5h3M304 604.5h2M417 604.5h2M669 604.5h2M679 604.5h3M695 604.5h4M709 604.5h2M724 604.5h2M767 604.5h2M1021 604.5h14M1077 604.5h2M1083 604.5h4M1090 604.5h3M306 605.5h3M675 605.5h4M682 605.5h3M693 605.5h2M699 605.5h4M706 605.5h3M726 605.5h2M763 605.5h4M1079 605.5h4M1093 605.5h2M309 606.5h2M357 606.5h2M414 606.5h2M672 606.5h3M685 606.5h2M690 606.5h3M703 606.5h3M728 606.5h3M760 606.5h3M1095 606.5h2M311 607.5h3M412 607.5h2M687 607.5h3M731 607.5h4M758 607.5h2M314 608.5h2M410 608.5h2M735 608.5h6M756 608.5h2M316 609.5h2M353 609.5h2M381 609.5h12M408 609.5h2M741 609.5h8M754 609.5h2M273 610.5h2M318 610.5h2M375 610.5h6M393 610.5h2M406 610.5h2M749 610.5h5M275 611.5h2M320 611.5h9M373 611.5h2M395 611.5h2M903 611.5h2M370 612.5h3M403 612.5h2M864 612.5h2M278 613.5h2M285 613.5h8M368 613.5h2M398 613.5h2M401 613.5h2M866 613.5h3M280 614.5h5M293 614.5h4M347 614.5h2M648 614.5h9M869 614.5h2M1128 614.5h3M232 615.5h3M871 615.5h4M1131 615.5h4M235 616.5h2M875 616.5h4M1135 616.5h6M879 617.5h14M1105 617.5h2M1141 617.5h4M56 618.5h2M238 618.5h2M342 618.5h2M893 618.5h4M1107 618.5h2M58 619.5h3M103 619.5h2M240 619.5h13M61 620.5h2M99 620.5h4M253 620.5h5M339 620.5h2M1110 620.5h2M1147 620.5h2M1160 620.5h2M63 621.5h6M88 621.5h11M258 621.5h3M337 621.5h2M976 621.5h5M1112 621.5h3M1158 621.5h2M1162 621.5h3M69 622.5h4M159 622.5h2M261 622.5h2M981 622.5h8M1115 622.5h4M1156 622.5h2M1165 622.5h2M144 623.5h5M155 623.5h4M189 623.5h8M263 623.5h2M935 623.5h6M989 623.5h4M1119 623.5h2M1154 623.5h2M1167 623.5h2M149 624.5h6M184 624.5h5M197 624.5h5M931 624.5h4M941 624.5h4M1152 624.5h2M202 625.5h3M925 625.5h6M971 625.5h2M205 626.5h2M912 626.5h13M9 627.5h2M22 627.5h2M25 627.5h2M207 627.5h2M947 627.5h2M11 628.5h2M27 628.5h2M128 628.5h2M965 628.5h4M19 629.5h2M130 629.5h3M959 629.5h6M14 630.5h2M17 630.5h2M30 630.5h2M133 630.5h2M168 630.5h3M955 630.5h4M32 631.5h2M135 631.5h2M171 631.5h4M952 631.5h3M34 632.5h3M175 632.5h2M37 633.5h2M222 633.5h2M39 634.5h4M220 634.5h2M43 635.5h4M218 635.5h2M47 636.5h2M216 636.5h2M8.5 626v1M13.5 629v1M16.5 631v1M21.5 628v1M24.5 626v1M29.5 629v1M48.5 635v1M49.5 633v2M50.5 631v2M51.5 629v2M52.5 626v3M53.5 624v2M54.5 622v2M55.5 620v2M56.5 619v1M73.5 623v1M74.5 624v1M75.5 625v1M76.5 626v1M77.5 627v1M78.5 628v1M79.5 629v1M80.5 630v1M81.5 629v1M82.5 628v1M83.5 627v1M84.5 625v2M85.5 624v1M86.5 623v1M87.5 622v1M105.5 617v2M106.5 616v1M107.5 614v2M108.5 613v1M109.5 611v2M110.5 610v1M111.5 608v2M112.5 607v1M113.5 608v1M114.5 609v2M115.5 611v1M116.5 612v1M117.5 613v1M118.5 614v2M119.5 616v1M120.5 617v1M121.5 618v2M122.5 620v1M123.5 621v1M124.5 622v2M125.5 624v1M126.5 625v1M127.5 626v2M137.5 630v1M138.5 629v1M139.5 628v1M140.5 627v1M141.5 626v1M142.5 625v1M143.5 624v1M161.5 623v1M162.5 624v1M163.5 625v1M164.5 626v1M165.5 627v1M166.5 628v1M167.5 629v1M177.5 631v1M178.5 630v1M179.5 629v1M180.5 628v1M181.5 627v1M182.5 626v1M183.5 625v1M209.5 628v1M210.5 629v1M211.5 630v1M212.5 631v2M213.5 633v1M214.5 634v1M215.5 635v1M224.5 631v2M225.5 629v2M226.5 627v2M227.5 625v2M228.5 622v3M229.5 620v2M230.5 618v2M231.5 616v2M232.5 614v1M237.5 617v1M265.5 621v2M266.5 619v2M267.5 617v2M268.5 616v1M269.5 614v2M270.5 612v2M271.5 610v2M272.5 609v1M277.5 612v1M297.5 613v1M298.5 611v2M299.5 610v1M300.5 609v1M301.5 608v1M302.5 606v2M303.5 605v1M329.5 612v2M330.5 614v1M331.5 615v1M332.5 616v2M333.5 618v1M334.5 619v1M335.5 620v2M336.5 622v1M341.5 619v1M344.5 617v1M345.5 616v1M346.5 615v1M349.5 613v1M350.5 612v1M351.5 611v1M352.5 610v1M355.5 608v1M356.5 607v1M359.5 605v1M360.5 604v1M361.5 605v1M362.5 606v1M363.5 607v1M364.5 608v2M365.5 610v1M366.5 611v1M367.5 612v1M397.5 612v1M400.5 614v1M405.5 611v1M416.5 605v1M419.5 603v1M420.5 602v1M423.5 600v1M459.5 598v1M460.5 597v1M463.5 595v1M525.5 585v1M557.5 583v1M569.5 583v2M570.5 585v1M571.5 586v2M572.5 588v1M573.5 589v2M574.5 591v1M575.5 592v2M609.5 598v1M610.5 599v2M611.5 601v1M612.5 602v1M613.5 603v1M614.5 604v2M615.5 606v1M616.5 607v1M617.5 606v1M618.5 605v1M619.5 604v1M620.5 603v1M621.5 602v1M622.5 601v1M623.5 600v1M641.5 601v2M642.5 603v2M643.5 605v2M644.5 607v1M645.5 608v2M646.5 610v2M647.5 612v2M657.5 612v2M658.5 610v2M659.5 608v2M660.5 607v1M661.5 605v2M662.5 603v2M663.5 601v2M664.5 600v1M667.5 602v1M668.5 603v1M671.5 605v1M769.5 603v1M770.5 602v1M771.5 601v1M772.5 599v2M773.5 598v1M774.5 597v1M775.5 596v1M795.5 594v1M796.5 593v1M799.5 591v1M800.5 590v1M805.5 587v1M829.5 587v1M856.5 593v2M857.5 595v2M858.5 597v2M859.5 599v3M860.5 602v2M861.5 604v3M862.5 607v2M863.5 609v2M864.5 611v1M897.5 617v1M898.5 616v1M899.5 615v1M900.5 614v1M901.5 613v1M902.5 612v1M904.5 610v1M905.5 612v2M906.5 614v2M907.5 616v2M908.5 618v2M909.5 620v2M910.5 622v2M911.5 624v2M945.5 625v1M946.5 626v1M949.5 628v1M950.5 629v1M951.5 630v1M969.5 627v1M970.5 626v1M973.5 624v1M974.5 623v1M975.5 622v1M992.5 622v1M993.5 620v2M994.5 617v3M995.5 615v2M996.5 612v3M997.5 610v2M998.5 607v3M999.5 605v2M1000.5 604v1M1049.5 603v1M1050.5 604v1M1051.5 605v1M1052.5 606v1M1053.5 607v1M1054.5 608v1M1055.5 609v1M1056.5 610v1M1057.5 609v1M1058.5 607v2M1059.5 606v1M1060.5 605v1M1061.5 604v1M1062.5 602v2M1063.5 601v1M1097.5 607v1M1098.5 608v2M1099.5 610v1M1100.5 611v1M1101.5 612v1M1102.5 613v2M1103.5 615v1M1104.5 616v1M1109.5 619v1M1121.5 622v1M1122.5 621v1M1123.5 620v1M1124.5 618v2M1125.5 617v1M1126.5 616v1M1127.5 615v1M1145.5 618v1M1146.5 619v1M1149.5 621v1M1150.5 622v1M1151.5 623v1" fill="none" stroke="#0A84FF" stroke-width="1" shape-rendering="crispEdges"/>
<g shape-rendering="crispEdges" fill="#000">
<rect x="7" y="2" width="1" height="663"/>
<rect x="1190" y="2" width="1" height="663"/>
<rect x="7" y="2" width="1184" height="1"/>
<rect x="7" y="412" width="1184" height="1"/>
<rect x="7" y="414" width="1184" height="1"/>
<rect x="7" y="542" width="1184" height="1"/>
<rect x="7" y="544" width="1184" height="1"/>
<rect x="7" y="664" width="1184" height="1"/>
<rect x="8" y="413" width="1183" height="1" fill="#fff"/>
<rect x="8" y="543" width="1183" height="1" fill="#fff"/>
<rect x="1191" y="13" width="2" height="1"/>
<rect x="1191" y="46" width="2" height="1"/>
<rect x="1191" y="79" width="2" height="1"/>
<rect x="1191" y="112" width="2" height="1"/>
<rect x="1191" y="145" width="2" height="1"/>
<rect x="1191" y="178" width="2" height="1"/>
<rect x="1191" y="211" width="2" height="1"/>
<rect x="1191" y="244" width="2" height="1"/>
<rect x="1191" y="277" width="2" height="1"/>
<rect x="1191" y="310" width="2" height="1"/>
<rect x="1191" y="343" width="2" height="1"/>
<rect x="1191" y="376" width="2" height="1"/>
<rect x="1191" y="409" width="2" height="1"/>
<rect x="1191" y="416" width="1" height="1"/>
<rect x="1191" y="468" width="1" height="1"/>
<rect x="1191" y="541" width="1" height="1"/>
<rect x="1191" y="546" width="1" height="1"/>
<rect x="1191" y="663" width="1" height="1"/>
<rect x="8" y="665" width="1" height="3"/>
<rect x="72" y="665" width="1" height="3"/>
<rect x="136" y="665" width="1" height="3"/>
<rect x="200" y="665" width="1" height="3"/>
<rect x="264" y="665" width="1" height="3"/>
<rect x="328" y="665" width="1" height="3"/>
<rect x="392" y="665" width="1" height="3"/>
<rect x="456" y="665" width="1" height="3"/>
<rect x="520" y="665" width="1" height="3"/>
<rect x="584" y="665" width="1" height="3"/>
<rect x="648" y="665" width="1" height="3"/>
<rect x="712" y="665" width="1" height="3"/>
<rect x="776" y="665" width="1" height="3"/>
<rect x="840" y="665" width="1" height="3"/>
<rect x="904" y="665" width="1" height="3"/>
<rect x="968" y="665" width="1" height="3"/>
<rect x="1032" y="665" width="1" height="3"/>
<rect x="1096" y="665" width="1" height="3"/>
<rect x="1160" y="665" width="1" height="3"/>
</g>
<defs><filter id="tf" x="0" y="0" width="100%" height="100%" filterUnits="userSpaceOnUse" color-interpolation-filters="sRGB"><feComponentTransfer><feFuncA type="linear" slope="1.8" intercept="-0.1"/></feComponentTransfer></filter></defs>
<path d="M11 9h7v1h-1v1h-1v1h-1v1h-1v-1h-1v-1h-1v-1h-1z" fill="#000" shape-rendering="crispEdges"/>
<g filter="url(#tf)">
<text x="23" y="14" textLength="45" lengthAdjust="spacingAndGlyphs" fill="#000">SP500-,H4</text>
<text x="73.7" y="14" textLength="37.6" lengthAdjust="spacingAndGlyphs" fill="#000">4369.250</text>
<text x="115" y="14" textLength="37.6" lengthAdjust="spacingAndGlyphs" fill="#000">4376.500</text>
<text x="156.2" y="14" textLength="37.6" lengthAdjust="spacingAndGlyphs" fill="#000">4331.000</text>
<text x="197.3" y="14" textLength="37.6" lengthAdjust="spacingAndGlyphs" fill="#000">4349.500</text>
<text x="1195.6" y="17" textLength="38" lengthAdjust="spacingAndGlyphs" fill="#000">4642.720</text>
<text x="1195.6" y="50" textLength="38" lengthAdjust="spacingAndGlyphs" fill="#000">4605.490</text>
<text x="1195.6" y="83" textLength="38" lengthAdjust="spacingAndGlyphs" fill="#000">4569.355</text>
<text x="1195.6" y="116" textLength="38" lengthAdjust="spacingAndGlyphs" fill="#000">4533.220</text>
<text x="1195.6" y="149" textLength="38" lengthAdjust="spacingAndGlyphs" fill="#000">4497.085</text>
<text x="1195.6" y="182" textLength="38" lengthAdjust="spacingAndGlyphs" fill="#000">4459.855</text>
<text x="1195.6" y="248" textLength="38" lengthAdjust="spacingAndGlyphs" fill="#000">4387.585</text>
<text x="1195.6" y="314" textLength="38" lengthAdjust="spacingAndGlyphs" fill="#000">4314.220</text>
<text x="1195.6" y="347" textLength="38" lengthAdjust="spacingAndGlyphs" fill="#000">4278.085</text>
<text x="1195.6" y="380" textLength="38" lengthAdjust="spacingAndGlyphs" fill="#000">4241.950</text>
<text x="1195.6" y="413" textLength="38" lengthAdjust="spacingAndGlyphs" fill="#000">4205.815</text>
</g><g shape-rendering="crispEdges">
<rect x="1193" y="14" width="44" height="11" fill="#FF0000"/>
<rect x="1193" y="118" width="44" height="11" fill="#FF0000"/>
<rect x="1193" y="208" width="44" height="11" fill="#00CC00"/>
<rect x="1193" y="273" width="44" height="11" fill="#000000"/>
<rect x="1193" y="344" width="44" height="11" fill="#4169E1"/>
</g>
<g filter="url(#tf)">
<text x="1195.6" y="23" textLength="38" lengthAdjust="spacingAndGlyphs" fill="#fff">4635.000</text>
<text x="1195.6" y="127" textLength="38" lengthAdjust="spacingAndGlyphs" fill="#fff">4520.000</text>
<text x="1195.6" y="217" textLength="38" lengthAdjust="spacingAndGlyphs" fill="#fff">4420.000</text>
<text x="1195.6" y="282" textLength="38" lengthAdjust="spacingAndGlyphs" fill="#fff">4349.500</text>
<text x="1195.6" y="353" textLength="38" lengthAdjust="spacingAndGlyphs" fill="#fff">4270.000</text>
<text x="11.4" y="427" textLength="66.2" lengthAdjust="spacingAndGlyphs" fill="#000">MACD(12,26,9)</text>
<text x="80.5" y="427" textLength="36" lengthAdjust="spacingAndGlyphs" fill="#000">-23.5368</text>
<text x="120" y="427" textLength="35.6" lengthAdjust="spacingAndGlyphs" fill="#000">-15.3299</text>
<text x="1193.3" y="425" textLength="33" lengthAdjust="spacingAndGlyphs" fill="#000">52.1087</text>
<text x="1193.3" y="472" textLength="18.2" lengthAdjust="spacingAndGlyphs" fill="#000">0.00</text>
<text x="1193.6" y="539" textLength="35.6" lengthAdjust="spacingAndGlyphs" fill="#000">-72.1902</text>
<text x="11.4" y="557" textLength="32.2" lengthAdjust="spacingAndGlyphs" fill="#000">RSI(14)</text>
<text x="46.4" y="557" textLength="33" lengthAdjust="spacingAndGlyphs" fill="#000">33.8477</text>
<text x="1194.3" y="555" textLength="14.2" lengthAdjust="spacingAndGlyphs" fill="#000">100</text>
<text x="1192.6" y="585" textLength="9.6" lengthAdjust="spacingAndGlyphs" fill="#000">70</text>
<text x="1192.8" y="632" textLength="9.6" lengthAdjust="spacingAndGlyphs" fill="#000">30</text>
<text x="1193.6" y="661" textLength="4.8" lengthAdjust="spacingAndGlyphs" fill="#000">0</text>
<text x="7.3" y="677" textLength="49.5" lengthAdjust="spacingAndGlyphs" fill="#000">18 Jan 2022</text>
<text x="71.3" y="677" textLength="52.5" lengthAdjust="spacingAndGlyphs" fill="#000">19 Jan 16:00</text>
<text x="135.3" y="677" textLength="52.5" lengthAdjust="spacingAndGlyphs" fill="#000">21 Jan 00:00</text>
<text x="199.3" y="677" textLength="52.5" lengthAdjust="spacingAndGlyphs" fill="#000">24 Jan 04:00</text>
<text x="263.3" y="677" textLength="52.5" lengthAdjust="spacingAndGlyphs" fill="#000">25 Jan 12:00</text>
<text x="327.3" y="677" textLength="52.5" lengthAdjust="spacingAndGlyphs" fill="#000">26 Jan 20:00</text>
<text x="391.3" y="677" textLength="52.5" lengthAdjust="spacingAndGlyphs" fill="#000">28 Jan 04:00</text>
<text x="455.3" y="677" textLength="52.5" lengthAdjust="spacingAndGlyphs" fill="#000">31 Jan 08:00</text>
<text x="519.3" y="677" textLength="48.5" lengthAdjust="spacingAndGlyphs" fill="#000">1 Feb 16:00</text>
<text x="583.3" y="677" textLength="48.5" lengthAdjust="spacingAndGlyphs" fill="#000">3 Feb 00:00</text>
<text x="647.3" y="677" textLength="48.5" lengthAdjust="spacingAndGlyphs" fill="#000">4 Feb 08:00</text>
<text x="711.3" y="677" textLength="48.5" lengthAdjust="spacingAndGlyphs" fill="#000">7 Feb 12:00</text>
<text x="775.3" y="677" textLength="48.5" lengthAdjust="spacingAndGlyphs" fill="#000">8 Feb 20:00</text>
<text x="839.3" y="677" textLength="53.5" lengthAdjust="spacingAndGlyphs" fill="#000">10 Feb 04:00</text>
<text x="903.3" y="677" textLength="53.5" lengthAdjust="spacingAndGlyphs" fill="#000">11 Feb 12:00</text>
<text x="967.3" y="677" textLength="53.5" lengthAdjust="spacingAndGlyphs" fill="#000">14 Feb 16:00</text>
<text x="1031.3" y="677" textLength="53.5" lengthAdjust="spacingAndGlyphs" fill="#000">16 Feb 00:00</text>
<text x="1095.3" y="677" textLength="53.5" lengthAdjust="spacingAndGlyphs" fill="#000">17 Feb 08:00</text>
<text x="1159.3" y="677" textLength="53.5" lengthAdjust="spacingAndGlyphs" fill="#000">18 Feb 16:00</text>
</g>
</svg></body></html>
